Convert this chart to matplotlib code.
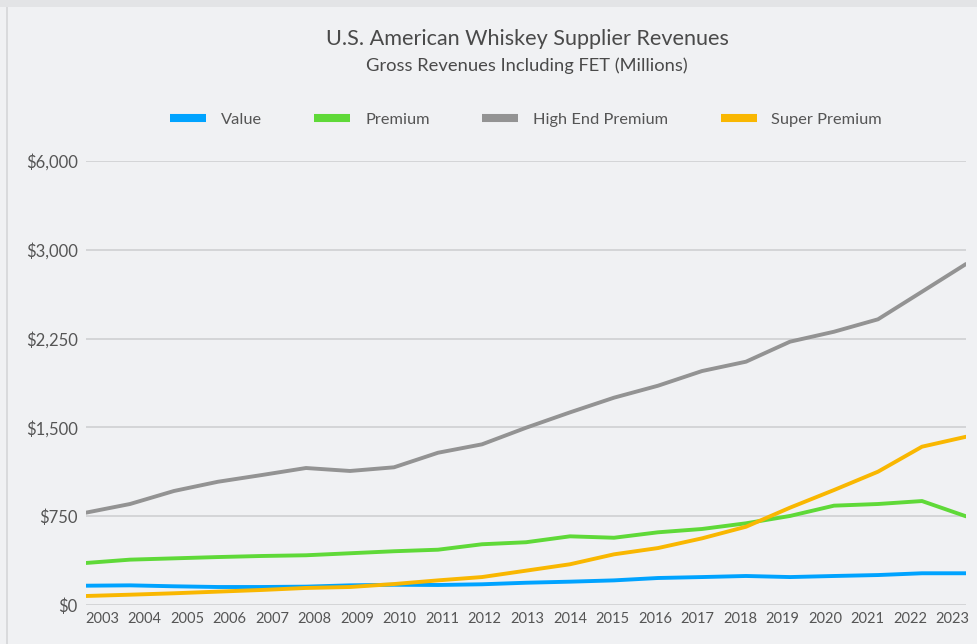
import matplotlib
matplotlib.use("Agg")
import matplotlib.pyplot as plt
from matplotlib.lines import Line2D
from matplotlib.patches import Rectangle
import numpy as np

# Gross revenues including FET, millions of dollars
years = list(range(2003, 2024))
value = [163, 166, 158, 152, 152, 155, 166, 171, 169, 175, 188, 197, 208, 228,
         236, 245, 236, 245, 253, 268, 268]
premium = [355, 383, 394, 405, 414, 420, 437, 454, 467, 513, 530, 580, 568, 614,
           642, 690, 752, 839, 853, 878, 749]
high_end = [780, 853, 963, 1041, 1098, 1157, 1132, 1163, 1286, 1357, 1497, 1627,
            1751, 1852, 1976, 2055, 2224, 2308, 2413, 2646, 2880]
super_premium = [76, 87, 99, 113, 127, 144, 152, 177, 208, 236, 290, 344, 428, 481,
                 563, 661, 822, 971, 1126, 1337, 1421]

series_names = ["Value", "Premium", "High End Premium", "Super Premium"]
series_colors = ["#00a3ff", "#5fd938", "#939393", "#f9b701"]

# the top gridline is labelled $6,000 but sits one step above $3,000
y_ticks = [0, 750, 1500, 2250, 3000, 3750]
y_labels = ["$0", "$750", "$1,500", "$2,250", "$3,000", "$6,000"]

plt.rcParams["font.family"] = ["Lato", "DejaVu Sans"]
bg = "#f0f1f3"
text_col = "#555555"

W, H = 977, 644
fig = plt.figure(figsize=(W / 100, H / 100), dpi=100, facecolor=bg)

# frame along the top and left edge
fig.patches.append(Rectangle((0, 1 - 7 / H), 1, 7 / H, transform=fig.transFigure,
                             facecolor="#e3e4e6", edgecolor="none"))
fig.patches.append(Rectangle((6 / W, 0), 2 / W, 1 - 7 / H, transform=fig.transFigure,
                             facecolor="#d9dadc", edgecolor="none"))

ax = fig.add_axes([86 / W, 1 - 605 / H, 880 / W, 444 / H])
ax.set_facecolor(bg)

for name, vals, col in zip(series_names, [value, premium, high_end, super_premium], series_colors):
    ax.plot(years, vals, color=col, lw=2.8, solid_capstyle="round",
            solid_joinstyle="round", label=name, zorder=3)

ax.set_xlim(2003, 2023)
ax.set_ylim(0, 3750)
ax.set_yticks(y_ticks)
ax.set_yticklabels(y_labels)
ax.yaxis.grid(True, color="#d2d3d5", lw=1.3)
ax.set_axisbelow(True)

# year labels spread slightly inside the line ends
xpos = np.linspace(2003.36, 2022.70, len(years))
ax.set_xticks(xpos)
ax.set_xticklabels([str(y) for y in years])

ax.tick_params(axis="y", length=0, pad=6, labelsize=12, labelcolor=text_col)
ax.tick_params(axis="x", length=0, pad=5, labelsize=10.5, labelcolor=text_col)
for s in ax.spines.values():
    s.set_visible(False)

fig.text(527 / W, 1 - 39 / H, "U.S. American Whiskey Supplier Revenues",
         ha="center", va="center", fontsize=15.6, color="#4a4a4a")
fig.text(527 / W, 1 - 66 / H, "Gross Revenues Including FET (Millions)",
         ha="center", va="center", fontsize=13.2, color="#4a4a4a")

handles = [Line2D([0], [0], color=c, lw=5.8, solid_capstyle="butt") for c in series_colors]
fig.legend(handles, series_names, loc="center", bbox_to_anchor=(526 / W, 1 - 120 / H),
           ncol=4, frameon=False, fontsize=11.8,
           labelcolor=text_col, handlelength=2.2, handletextpad=0.9, columnspacing=3.2)

fig.savefig("out.png", dpi=100, facecolor=bg)
